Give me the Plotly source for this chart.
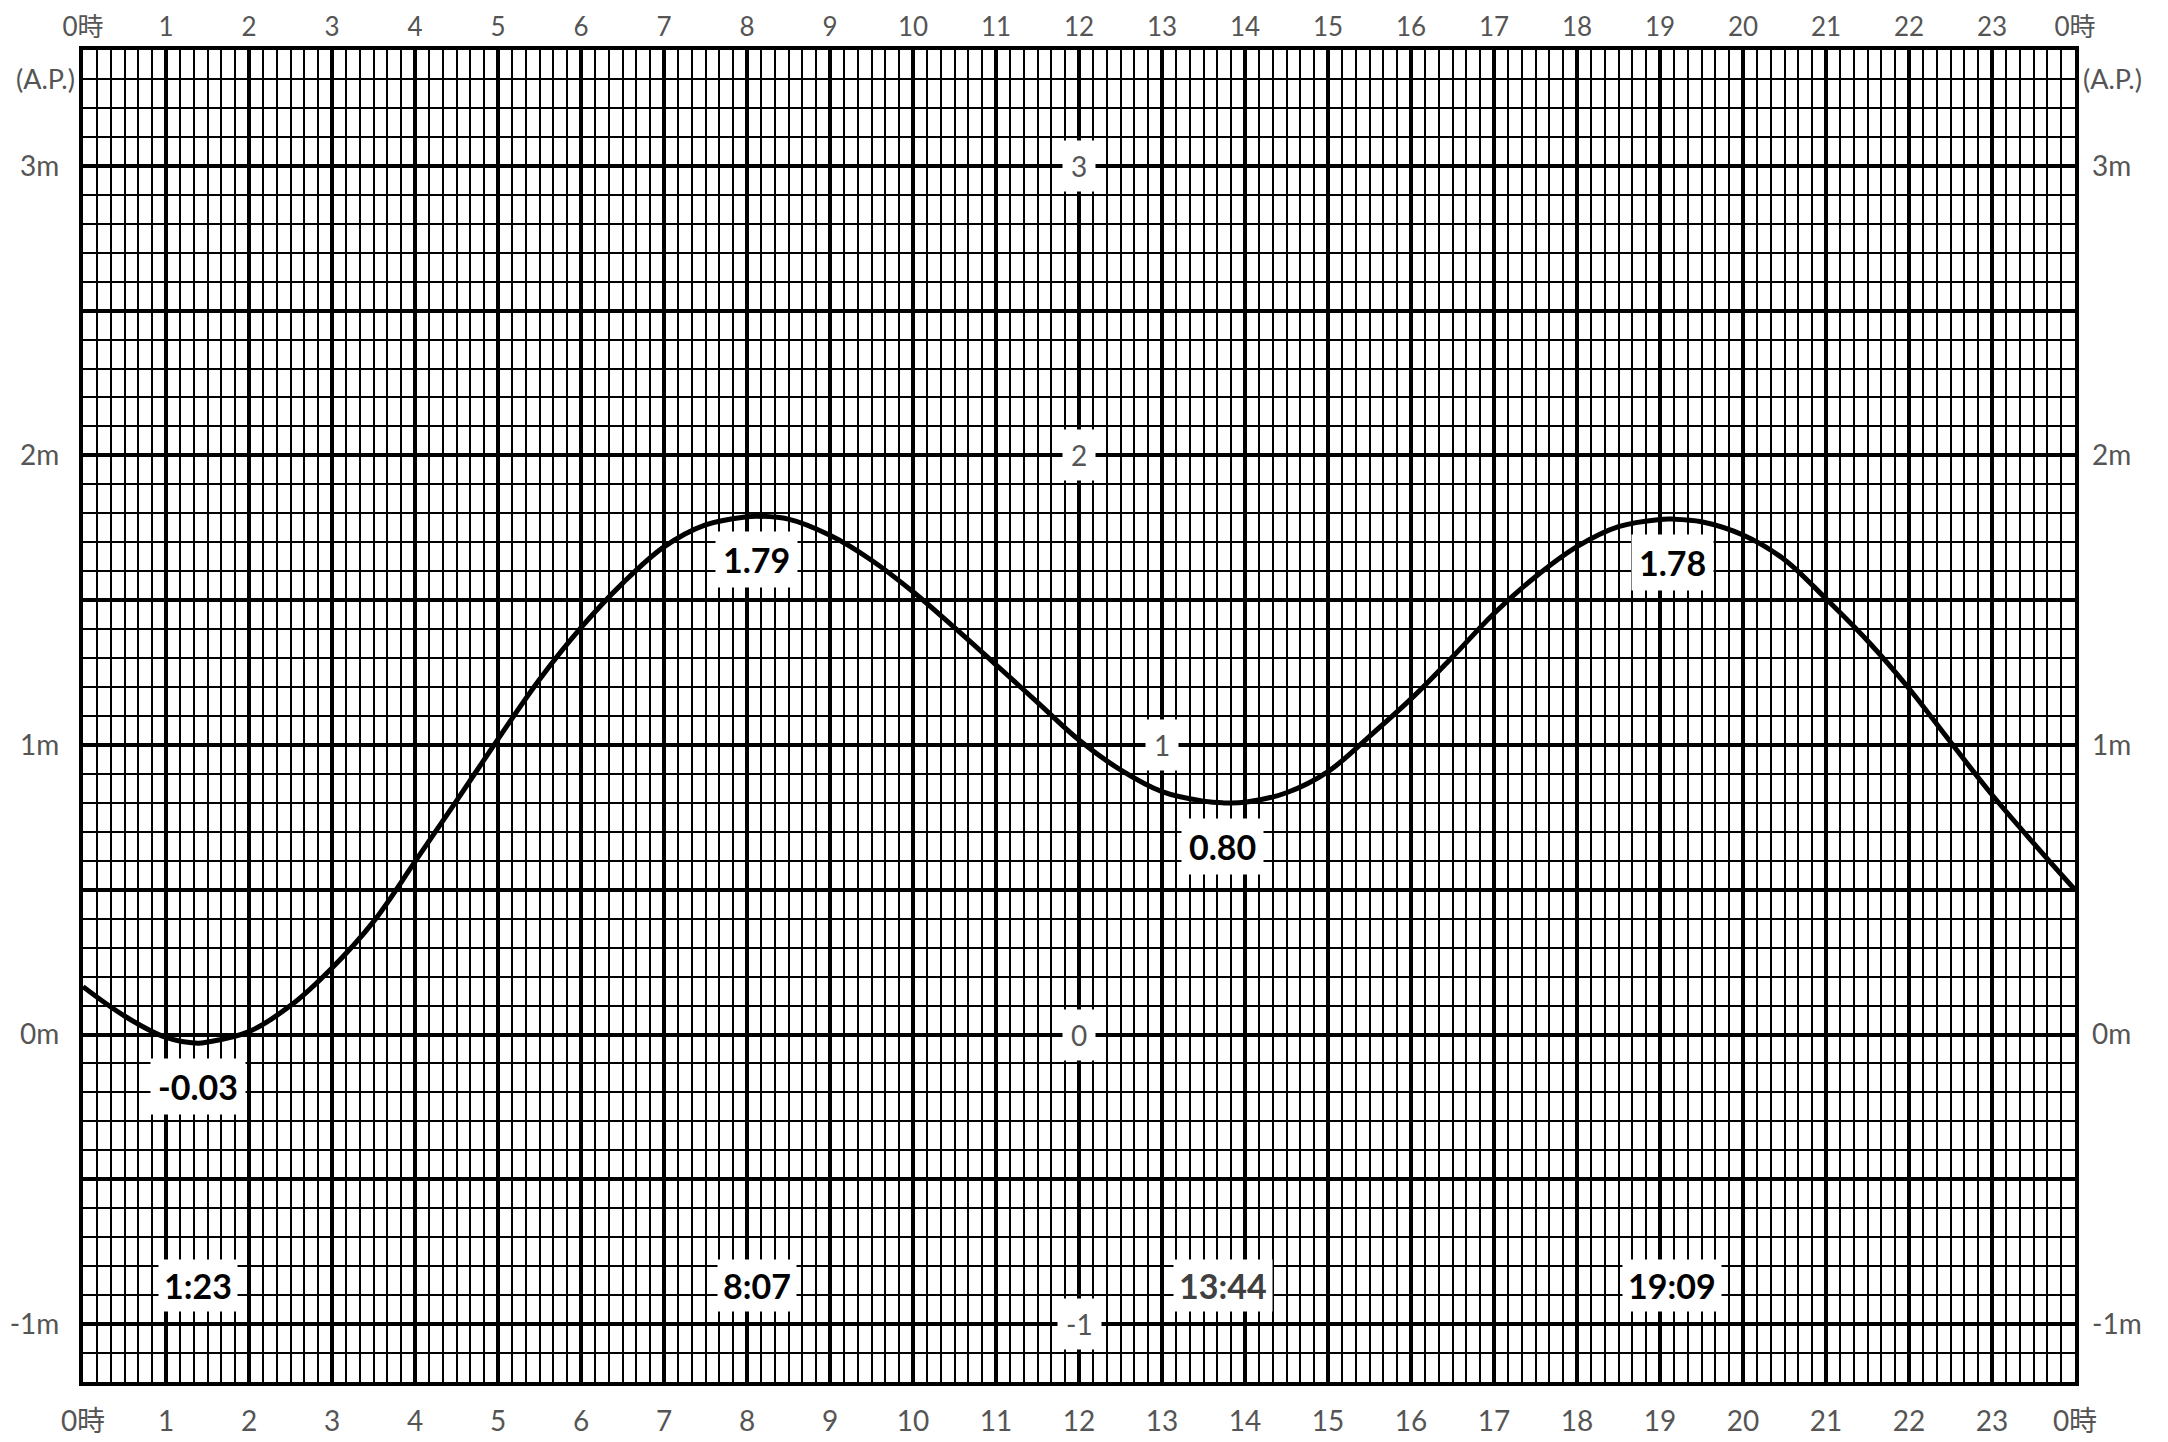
import plotly.graph_objects as go

# ---- data ----
hours = [0, 0.5, 1, 1.383, 1.5, 2, 2.5, 3, 3.5, 4, 4.5, 5, 5.5, 6, 6.5, 7, 7.5, 8, 8.117, 8.5,
         9, 9.5, 10, 10.5, 11, 11.5, 12, 12.5, 13, 13.5, 13.733, 14, 14.5, 15, 15.5, 16,
         16.5, 17, 17.5, 18, 18.5, 19, 19.15, 19.5, 20, 20.5, 21, 21.5, 22, 22.5, 23, 23.5, 24]
level = [0.165, 0.064, -0.01, -0.03, -0.026, 0.01, 0.10, 0.23, 0.39, 0.597, 0.807, 1.02, 1.226,
         1.405, 1.558, 1.684, 1.76, 1.788, 1.79, 1.78, 1.724, 1.638, 1.529, 1.405, 1.277, 1.147,
         1.017, 0.914, 0.839, 0.806, 0.80, 0.802, 0.835, 0.908, 1.03, 1.159, 1.304, 1.454, 1.581,
         1.685, 1.754, 1.779, 1.78, 1.771, 1.725, 1.64, 1.505, 1.36, 1.195, 1.01, 0.828, 0.661, 0.50]

ext_times = [1.383, 8.117, 13.733, 19.15]
ext_levels = [-0.03, 1.79, 0.80, 1.78]
ext_level_text = ["-0.03", "1.79", "0.80", "1.78"]
ext_time_text = ["1:23", "8:07", "13:44", "19:09"]
ext_time_colors = ["#000000", "#000000", "#404040", "#000000"]

x_tickvals = list(range(0, 25))
x_ticktext = ["0時"] + [str(h) for h in range(1, 24)] + ["0時"]
y_tickvals = [-1, -0.5, 0, 0.5, 1, 1.5, 2, 2.5, 3]
y_ticktext = ["-1m", "", "0m", "", "1m", "", "2m", "", "3m"]
inner_vals = [3, 2, 1, 0, -1]
inner_x = [12, 12, 13, 12, 12]
inner_text = ["3", "2", "1", "0", "-1"]

FAM = "Lato, 'Noto Sans CJK JP'"
TICKFONT = dict(family=FAM, size=28, color="#555555")
TOPFONT = dict(family=FAM, size=26, color="#555555")
LABELFONT = "Lato"

fig = go.Figure()
fig.add_trace(go.Scatter(x=hours, y=level, mode="lines", line=dict(color="black", width=5, shape="spline", smoothing=1.0),
                         hoverinfo="skip", showlegend=False))
fig.add_trace(go.Scatter(x=hours, y=level, mode="lines", line=dict(width=0), xaxis="x2", yaxis="y2",
                         hoverinfo="skip", showlegend=False))

xcommon = dict(range=[0, 24], tickmode="array", tickvals=x_tickvals, ticktext=x_ticktext,
               ticks="", zeroline=False, automargin=False)
ycommon = dict(range=[-1.2, 3.4], tickmode="array", tickvals=y_tickvals, ticktext=y_ticktext, tickfont=TICKFONT,
               ticks="", zeroline=False, automargin=False)

fig.update_layout(
    width=2160, height=1434,
    margin=dict(l=75, r=93, t=42, b=60),
    paper_bgcolor="white", plot_bgcolor="white",
    xaxis=dict(**xcommon, side="bottom", tickfont=TICKFONT, showgrid=True, gridcolor="black", gridwidth=3.5,
               minor=dict(tick0=0, dtick=1/6, showgrid=True, gridcolor="black", gridwidth=1.8, ticks=""),
               showline=True, linecolor="black", linewidth=4, mirror=True, ticklabelstandoff=11),
    xaxis2=dict(**xcommon, side="top", tickfont=TOPFONT, overlaying="x", matches="x", showgrid=False,
                ticklabelstandoff=8),
    yaxis=dict(**ycommon, side="left", showgrid=True, gridcolor="black", gridwidth=3.5,
               minor=dict(tick0=0, dtick=0.1, showgrid=True, gridcolor="black", gridwidth=1.8, ticks=""),
               showline=True, linecolor="black", linewidth=4, mirror=True, ticklabelstandoff=14),
    yaxis2=dict(**ycommon, side="right", overlaying="y", matches="y", showgrid=False, ticklabelstandoff=16),
)

ann = []
for side_x, anchor, shift in [(0, "right", -6), (1, "left", 6)]:
    ann.append(dict(x=side_x, xref="paper", y=3.3, yref="y", text="(A.P.)", showarrow=False,
                    xanchor=anchor, xshift=shift, font=dict(family=FAM, size=27, color="#555555")))
for xv, yv, t in zip(inner_x, inner_vals, inner_text):
    ann.append(dict(x=xv, y=yv, text=t, showarrow=False, bgcolor="white", borderpad=8,
                    font=dict(family=FAM, size=28, color="#555555")))
for xt, yl, lt, tt, tc in zip(ext_times, ext_levels, ext_level_text, ext_time_text, ext_time_colors):
    ann.append(dict(x=xt, y=yl - 0.15, text="<b>" + lt + "</b>", showarrow=False, bgcolor="white", borderpad=7,
                    font=dict(family=LABELFONT, size=34, color="black")))
    ann.append(dict(x=xt, y=-0.865, text="<b>" + tt + "</b>", showarrow=False, bgcolor="white", borderpad=5,
                    font=dict(family=LABELFONT, size=34, color=tc)))
fig.update_layout(annotations=ann)

fig.write_html("out.html")
